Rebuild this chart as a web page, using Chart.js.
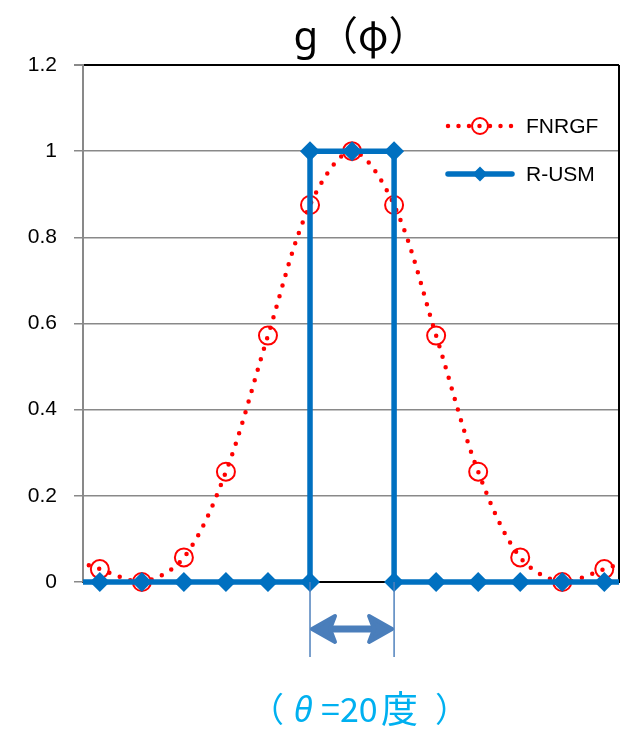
<!DOCTYPE html>
<html>
<head>
<meta charset="utf-8">
<script src="https://cdn.jsdelivr.net/npm/chart.js@4/dist/chart.umd.min.js"></script>
<style>
  html, body { margin: 0; padding: 0; background: #fff; }
</style>
</head>
<body>
<canvas id="chart" width="630" height="731"></canvas>
<script>
// ===== data =====
const angles = [-70, -60, -50, -40, -30, -20, -10, 0, 10, 20, 30, 40, 50, 60, 70];
const fnrgf = [0.065, 0.03, 0, 0.057, 0.256, 0.572, 0.875, 1, 0.875, 0.572, 0.256, 0.057, 0, 0.03, 0.065];
const rusmAngles = [-70, -60, -50, -40, -30, -20, -10, -10, 0, 10, 10, 20, 30, 40, 50, 60, 70];
const rusm = [0, 0, 0, 0, 0, 0, 0, 1, 1, 1, 0, 0, 0, 0, 0, 0, 0];
const yTicks = [0, 0.2, 0.4, 0.6, 0.8, 1, 1.2];
const seriesNames = ['FNRGF', 'R-USM'];
const titleParts = ['g', '（φ）'];
const thetaRange = [-10, 10];

const RED = '#ff0000';
const BLUE = '#0070c0';
const GRID = '#898989';
const CJK = '"Noto Sans CJK JP", "Noto Sans", sans-serif';

function drawDiamond(ctx, x, y, r) {
    ctx.beginPath();
    ctx.moveTo(x, y - r);
    ctx.lineTo(x + r, y);
    ctx.lineTo(x, y + r);
    ctx.lineTo(x - r, y);
    ctx.closePath();
    ctx.fill();
}

// frame, legend, title, arrow and caption
const extras = {
    id: 'extras',
    beforeDatasetsDraw(chart) {
        const { ctx, chartArea: a } = chart;
        ctx.save();
        ctx.strokeStyle = '#000';
        ctx.lineWidth = 2;
        ctx.beginPath();
        ctx.moveTo(a.right, a.top);
        ctx.lineTo(a.right, a.bottom);
        ctx.stroke();
        ctx.restore();
    },
    afterDraw(chart) {
        const { ctx, chartArea: a } = chart;
        const xs = chart.scales.x;
        ctx.save();

        // title: latin g in a sans face, brackets and phi in the CJK face
        ctx.fillStyle = '#000';
        ctx.textAlign = 'left';
        ctx.textBaseline = 'alphabetic';
        const fontG = '40px "Noto Sans", "DejaVu Sans", sans-serif';
        const fontRest = '40px ' + CJK;
        ctx.font = fontG;
        const wG = ctx.measureText(titleParts[0]).width;
        ctx.font = fontRest;
        const wR = ctx.measureText(titleParts[1]).width;
        const tx = (a.left + a.right) / 2 + 10 - (wG + wR) / 2;
        ctx.font = fontG;
        ctx.fillText(titleParts[0], tx, 50);
        ctx.font = fontRest;
        ctx.fillText(titleParts[1], tx + wG, 50);

        // legend
        const lx0 = 448, lx1 = 512, lmid = 480;
        const ly = [126, 174];
        ctx.lineCap = 'round';
        ctx.strokeStyle = RED;
        ctx.lineWidth = 4.5;
        ctx.setLineDash([0, 10.5]);
        ctx.beginPath();
        ctx.moveTo(lx0, ly[0]);
        ctx.lineTo(lx1, ly[0]);
        ctx.stroke();
        ctx.setLineDash([]);
        ctx.lineWidth = 2;
        ctx.beginPath();
        ctx.arc(lmid, ly[0], 8, 0, Math.PI * 2);
        ctx.stroke();

        ctx.strokeStyle = BLUE;
        ctx.fillStyle = BLUE;
        ctx.lineWidth = 5.5;
        ctx.beginPath();
        ctx.moveTo(lx0, ly[1]);
        ctx.lineTo(lx1, ly[1]);
        ctx.stroke();
        drawDiamond(ctx, lmid, ly[1], 7.5);

        ctx.fillStyle = '#000';
        ctx.font = '21px "Liberation Sans"';
        ctx.textAlign = 'left';
        ctx.textBaseline = 'middle';
        seriesNames.forEach((n, i) => ctx.fillText(n, 526, ly[i] + 1));

        // guide lines and double arrow under the axis
        const x1 = xs.getPixelForValue(thetaRange[0]);
        const x2 = xs.getPixelForValue(thetaRange[1]);
        const ay = a.bottom + 47;
        ctx.strokeStyle = '#4f81bd';
        ctx.lineWidth = 1.5;
        ctx.lineCap = 'butt';
        [x1, x2].forEach(x => {
            ctx.beginPath();
            ctx.moveTo(x, a.bottom);
            ctx.lineTo(x, a.bottom + 75);
            ctx.stroke();
        });
        ctx.strokeStyle = '#4a7ebb';
        ctx.fillStyle = '#4a7ebb';
        ctx.lineWidth = 7;
        ctx.lineCap = 'round';
        ctx.beginPath();
        ctx.moveTo(x1 + 14, ay);
        ctx.lineTo(x2 - 14, ay);
        ctx.stroke();
        ctx.lineJoin = 'round';
        ctx.lineWidth = 4;
        [[x1, 1], [x2, -1]].forEach(([x, d]) => {
            ctx.beginPath();
            ctx.moveTo(x + d * 2, ay);
            ctx.lineTo(x + d * 25, ay - 13);
            ctx.lineTo(x + d * 20, ay);
            ctx.lineTo(x + d * 25, ay + 13);
            ctx.closePath();
            ctx.fill();
            ctx.stroke();
        });

        // caption
        ctx.fillStyle = '#00b0f0';
        ctx.textAlign = 'left';
        ctx.textBaseline = 'alphabetic';
        const cy = 722;
        ctx.font = '34px ' + CJK;
        ctx.fillText('（', 250, cy);
        ctx.font = 'italic 34px "Noto Sans", sans-serif';
        ctx.fillText('θ', 294, cy);
        ctx.font = '34px ' + CJK;
        ctx.fillText('=', 321, cy);
        ctx.fillText('20', 340, cy);
        ctx.font = '37px ' + CJK;
        ctx.fillText('度', 381, cy + 1);
        ctx.font = '34px ' + CJK;
        ctx.fillText('）', 435, cy);

        ctx.restore();
    }
};

new Chart(document.getElementById('chart'), {
    type: 'line',
    data: {
        datasets: [
            {
                label: seriesNames[0],
                data: angles.map((x, i) => ({ x: x, y: fnrgf[i] })),
                borderColor: RED,
                borderWidth: 4.5,
                borderDash: [0, 11],
                borderCapStyle: 'round',
                tension: 0.33,
                pointStyle: 'circle',
                pointRadius: 9,
                pointBorderWidth: 2,
                pointBorderColor: RED,
                pointBackgroundColor: 'rgba(0,0,0,0)',
                clip: { left: 0, right: 0, top: 0, bottom: 15 },
                order: 2
            },
            {
                label: seriesNames[1],
                data: rusmAngles.map((x, i) => ({ x: x, y: rusm[i] })),
                borderColor: BLUE,
                borderWidth: 5.5,
                tension: 0,
                pointStyle: 'rectRot',
                pointRadius: 10,
                pointBorderWidth: 0,
                pointBackgroundColor: BLUE,
                clip: { left: 0, right: 0, top: 0, bottom: 15 },
                order: 1
            }
        ]
    },
    options: {
        responsive: false,
        animation: false,
        events: [],
        layout: { padding: { top: 65, bottom: 149, left: 0, right: 5 } },
        plugins: {
            legend: { display: false },
            tooltip: { enabled: false },
            title: { display: false }
        },
        scales: {
            x: {
                type: 'linear',
                min: -64,
                max: 63.5,
                ticks: { display: false },
                grid: { display: false },
                border: { display: true, color: '#000', width: 2 },
                afterFit: s => { s.height = 0; }
            },
            y: {
                min: 0,
                max: 1.2,
                afterBuildTicks: s => { s.ticks = yTicks.map(v => ({ value: v })); },
                ticks: {
                    color: '#000',
                    padding: 17,
                    font: { family: '"Liberation Sans"', size: 21 },
                    callback: v => String(+v.toFixed(1))
                },
                grid: {
                    color: ctx => ctx.tick && ctx.tick.value === 1.2 ? '#000' : GRID,
                    lineWidth: ctx => ctx.tick && ctx.tick.value === 1.2 ? 2 : 1.5,
                    tickColor: GRID,
                    tickLength: 9
                },
                border: { color: GRID, width: 2 },
                afterFit: s => { s.width = 83; }
            }
        }
    },
    plugins: [extras]
});
</script>
</body>
</html>
